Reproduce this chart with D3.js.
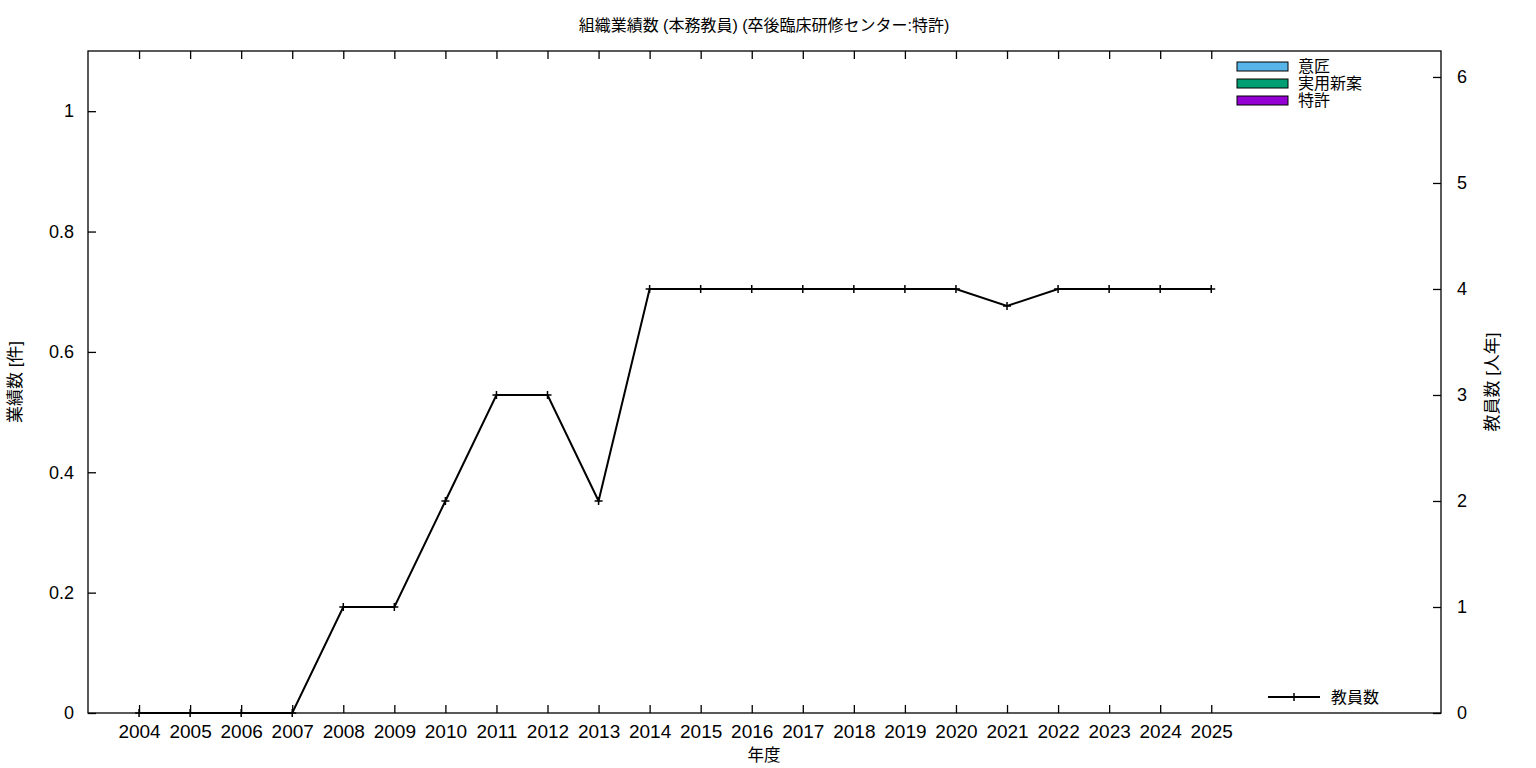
<!DOCTYPE html>
<html><head><meta charset="utf-8">
<script src="https://cdn.jsdelivr.net/npm/d3@7"></script>
<style>
body{margin:0;background:#fff;}
text{font-family:"Liberation Sans","Noto Sans CJK JP",sans-serif;fill:#000;}
</style></head><body>
<svg id="c" width="1536" height="768"></svg>
<script>
const years = ["2004","2005","2006","2007","2008","2009","2010","2011","2012","2013","2014","2015","2016","2017","2018","2019","2020","2021","2022","2023","2024","2025"];
const teachers = [0,0,0,0,1,1,2,3,3,2,4,4,4,4,4,4,4,3.84,4,4,4,4];
const design = [0,0,0,0,0,0,0,0,0,0,0,0,0,0,0,0,0,0,0,0,0,0];
const utility = [0,0,0,0,0,0,0,0,0,0,0,0,0,0,0,0,0,0,0,0,0,0];
const patent = [0,0,0,0,0,0,0,0,0,0,0,0,0,0,0,0,0,0,0,0,0,0];
const leftTicks = [0,0.2,0.4,0.6,0.8,1];
const rightTicks = [0,1,2,3,4,5,6];
const barSeries = [
  {name:"意匠", values:design, color:"#56b4e9"},
  {name:"実用新案", values:utility, color:"#009e73"},
  {name:"特許", values:patent, color:"#9400d3"}
];
const title = "組織業績数 (本務教員) (卒後臨床研修センター:特許)";

const L=88, R=1441, T=51, B=713;
const svg = d3.select("#c");
const x = d3.scaleLinear().domain([-1,25.5]).range([L,R]);
const yL = d3.scaleLinear().domain([0,1.1]).range([B,T]);
const yR = d3.scaleLinear().domain([0,6.245]).range([B,T]);

// bars (stacked, all zero)
const bw = 51.06*0.5;
years.forEach((yr,i)=>{
  let acc=0;
  barSeries.forEach(s=>{
    const v=s.values[i];
    if(v>0){
      svg.append("rect").attr("x",x(i)-bw/2).attr("width",bw)
        .attr("y",yL(acc+v)).attr("height",yL(acc)-yL(acc+v))
        .attr("fill",s.color).attr("stroke","#000");
    }
    acc+=v;
  });
});

// frame
svg.append("rect").attr("x",L).attr("y",T).attr("width",R-L).attr("height",B-T)
  .attr("fill","none").attr("stroke","#000").attr("stroke-width",1.3);

const xAxisB = d3.axisBottom(x).tickValues(d3.range(years.length)).tickFormat(i=>years[i]).tickSizeInner(-8).tickSizeOuter(0).tickPadding(12);
const gxb = svg.append("g").attr("transform",`translate(0,${B})`).call(xAxisB);
const xAxisT = d3.axisTop(x).tickValues(d3.range(years.length)).tickFormat("").tickSizeInner(-8).tickSizeOuter(0);
const gxt = svg.append("g").attr("transform",`translate(0,${T})`).call(xAxisT);
const yAxisL = d3.axisLeft(yL).tickValues(leftTicks).tickFormat(d=>d===0?"0":d===1?"1":d3.format(".1f")(d)).tickSizeInner(-8).tickSizeOuter(0).tickPadding(14);
const gyl = svg.append("g").attr("transform",`translate(${L},0)`).call(yAxisL);
const yAxisR = d3.axisRight(yR).tickValues(rightTicks).tickFormat(d3.format("d")).tickSizeInner(-8).tickSizeOuter(0).tickPadding(16);
const gyr = svg.append("g").attr("transform",`translate(${R},0)`).call(yAxisR);
[gxb,gxt,gyl,gyr].forEach(g=>{
  g.select(".domain").remove();
  g.selectAll(".tick line").attr("stroke","#000").attr("stroke-width",1.3);
  g.selectAll(".tick text").attr("font-size",18).attr("font-family","'Liberation Sans',sans-serif");
});
gxb.selectAll(".tick text").attr("font-size",19);

// teachers line
const line = d3.line().x((d,i)=>x(i)).y(d=>yR(d));
svg.append("path").datum(teachers).attr("d",line).attr("fill","none").attr("stroke","#000").attr("stroke-width",2);
svg.selectAll(".pt").data(teachers).enter().append("path")
  .attr("d",(d,i)=>`M${x(i)-4},${yR(d)}h8M${x(i)},${yR(d)-4}v8`)
  .attr("stroke","#000").attr("stroke-width",1.5);

// title & labels
svg.append("text").attr("x",764).attr("y",31).attr("text-anchor","middle").attr("font-size",16).text(title);
svg.append("text").attr("x",764).attr("y",761).attr("text-anchor","middle").attr("font-size",16.5).text("年度");
svg.append("text").attr("transform","translate(21,382) rotate(-90)").attr("text-anchor","middle").attr("font-size",17).text("業績数 [件]");
svg.append("text").attr("transform","translate(1498,382) rotate(-90)").attr("text-anchor","middle").attr("font-size",17).text("教員数 [人年]");

// legend top-right
barSeries.forEach((s,i)=>{
  const yy = 62+i*17;
  svg.append("rect").attr("x",1237).attr("y",yy).attr("width",51).attr("height",9)
    .attr("fill",s.color).attr("stroke","#000").attr("stroke-width",1);
  svg.append("text").attr("x",1298).attr("y",yy+10).attr("font-size",16).text(s.name);
});
// legend bottom-right
svg.append("line").attr("x1",1268).attr("x2",1320).attr("y1",697).attr("y2",697).attr("stroke","#000").attr("stroke-width",2);
svg.append("path").attr("d","M1290,697h8M1294,693v8").attr("stroke","#000").attr("stroke-width",1.5);
svg.append("text").attr("x",1331).attr("y",703).attr("font-size",16).text("教員数");
</script></body></html>
